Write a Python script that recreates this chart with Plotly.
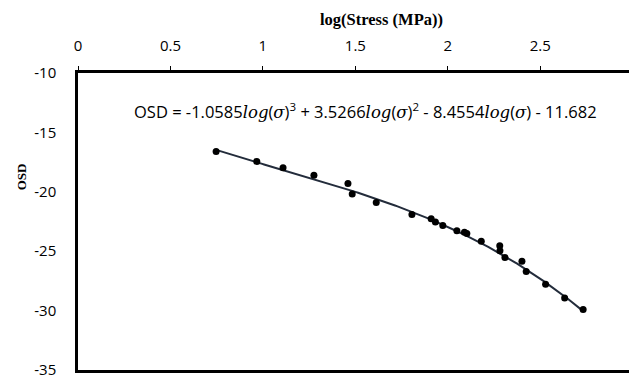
import numpy as np
import plotly.graph_objects as go

# Measured points: log10 of stress (MPa) and OSD
log_stress = [0.747, 0.967, 1.109, 1.276, 1.460, 1.483, 1.613, 1.806, 1.910,
              1.933, 1.973, 2.049, 2.090, 2.103, 2.181, 2.281, 2.282, 2.309,
              2.401, 2.424, 2.529, 2.632, 2.732]
osd = [-16.60, -17.44, -17.98, -18.61, -19.31, -20.18, -20.90, -21.91, -22.27,
       -22.54, -22.83, -23.27, -23.41, -23.52, -24.16, -24.55, -24.97, -25.53,
       -25.84, -26.70, -27.79, -28.93, -29.90]

# Cubic trend-line coefficients (highest power first)
coef = [-1.0585, 3.5266, -8.4554, -11.682]

x_tick_vals = [0, 0.5, 1, 1.5, 2, 2.5]
x_tick_text = ["0", "0.5", "1", "1.5", "2", "2.5"]
y_tick_vals = [-35, -30, -25, -20, -15, -10]
y_tick_text = ["-35", "-30", "-25", "-20", "-15", "-10"]

xs = np.linspace(min(log_stress), max(log_stress), 200)
ys = np.polyval(coef, xs)

fig = go.Figure()
fig.add_trace(go.Scatter(x=xs, y=ys, mode="lines",
                         line=dict(color="#232c3b", width=2), hoverinfo="skip"))
fig.add_trace(go.Scatter(x=log_stress, y=osd, mode="markers",
                         marker=dict(color="black", size=7)))

italic = ("<span style=\"font-family:'DejaVu Serif';font-style:italic\">log</span>"
          "(<span style=\"font-family:'DejaVu Serif';font-style:italic\">σ</span>)")
eq = (f"OSD = {coef[0]}{italic}<sup>3</sup> + {coef[1]}{italic}<sup>2</sup>"
      f" - {abs(coef[2])}{italic} - {abs(coef[3])}")

fig.add_annotation(text=eq, xref="paper", yref="paper", x=(365 - 78) / 551,
                   y=1 - (111 - 73) / 299, xanchor="center", yanchor="middle",
                   showarrow=False,
                   font=dict(family="Open Sans", size=16.5, color="black"))
fig.add_annotation(text="<b>log(Stress (MPa))</b>", xref="paper", yref="paper",
                   x=(381 - 78) / 551, y=1 + (73 - 19) / 299, xanchor="center",
                   yanchor="middle", showarrow=False,
                   font=dict(family="Liberation Serif", size=16.5, color="black"))
fig.add_annotation(text="<b>OSD</b>", xref="paper", yref="paper", textangle=-90,
                   x=(21 - 78) / 551, y=1 - (178 - 73) / 299, xanchor="center",
                   yanchor="middle", showarrow=False,
                   font=dict(family="Liberation Serif", size=13, color="black"))

fig.update_layout(
    width=629, height=379,
    margin=dict(l=78, r=0, t=73, b=7),
    paper_bgcolor="white", plot_bgcolor="white",
    showlegend=False,
    xaxis=dict(range=[0, 2.98], side="top", tickvals=x_tick_vals, ticktext=x_tick_text,
               showgrid=False, zeroline=False, showline=True, linecolor="black",
               linewidth=2.5, mirror=True, ticks="outside", ticklen=4, tickwidth=1,
               tickcolor="black", ticklabelstandoff=9, ticklabeloverflow="allow",
               tickfont=dict(family="Open Sans", size=15, color="black")),
    yaxis=dict(range=[-35, -10], tickvals=y_tick_vals, ticktext=y_tick_text,
               showgrid=False, zeroline=False, showline=True, linecolor="black",
               linewidth=2.5, ticks="", ticklabelstandoff=16, ticklabeloverflow="allow",
               tickfont=dict(family="Open Sans", size=15, color="black")),
)

fig.write_html("out.html")
